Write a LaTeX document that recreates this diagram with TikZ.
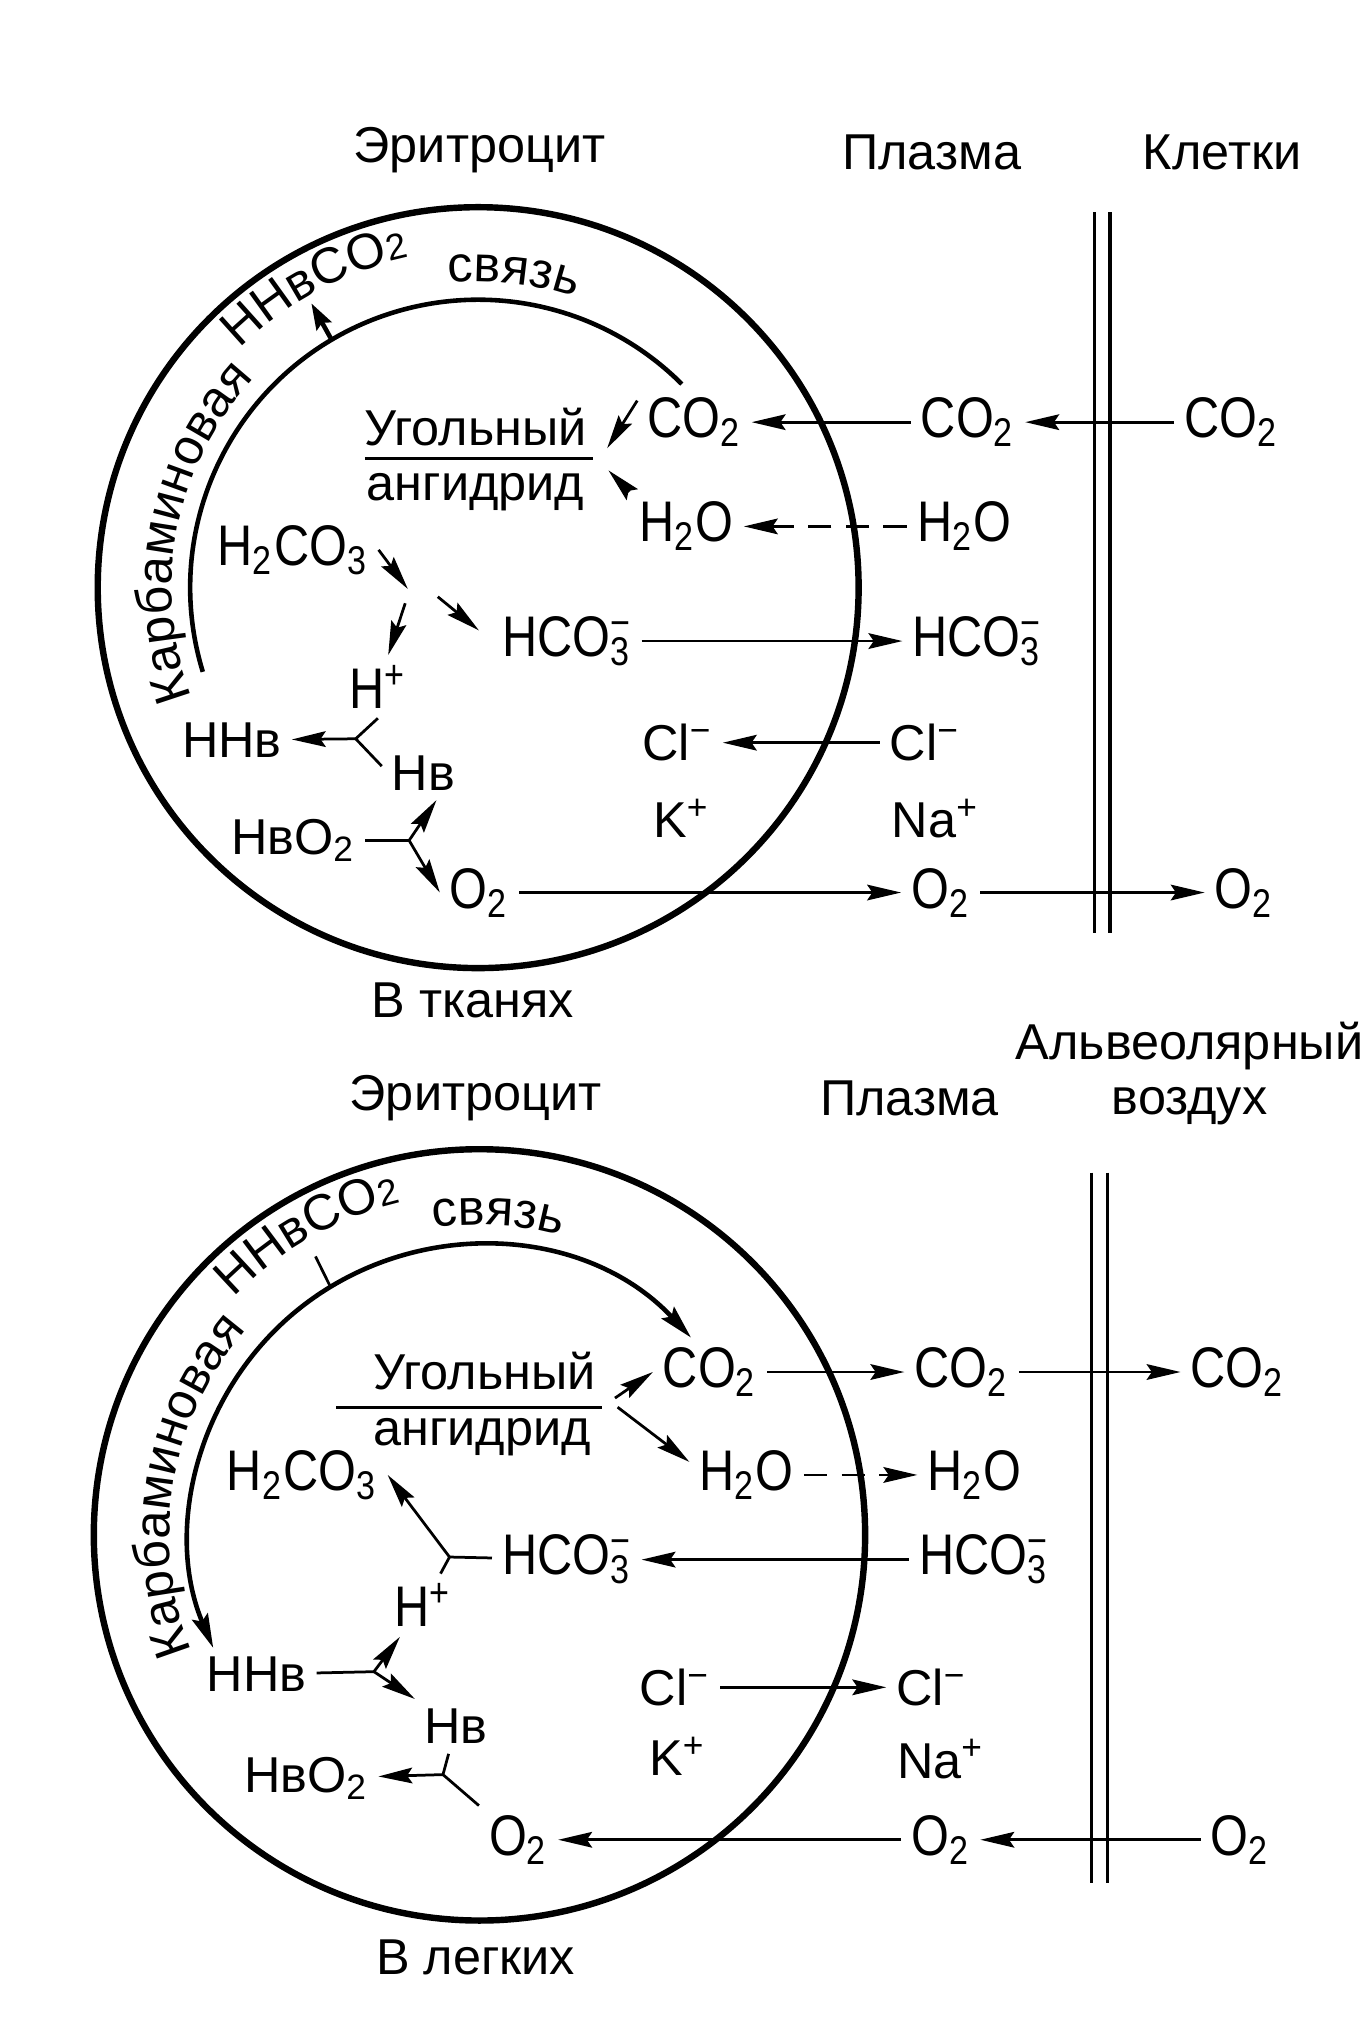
\documentclass[tikz,border=0pt]{standalone}
\usepackage{fontspec}
\setmainfont{Liberation Sans}
\newfontfamily\chemfont{Liberation Sans}[FakeStretch=0.85]
\usetikzlibrary{arrows.meta,calc,decorations.text}

\newcommand{\ionsub}[2]{\makebox[0pt][l]{\textsuperscript{#2}}\textsubscript{#1}}
\newcommand{\regsize}{\fontsize{11}{12}\selectfont}
\newcommand{\chemsize}{\chemfont\fontsize{12.5}{13}\selectfont}

\tikzset{
  lbl/.style={font=\regsize, inner sep=2pt},
  chem/.style={font=\chemsize, inner sep=2pt},
  cell/.style={line width=1.4pt},
  ring/.style={line width=1pt},
  wall/.style={line width=0.7pt},
  link/.style={line width=0.6pt},
  arr/.style={link, -{Stealth[length=2.6mm, width=1.2mm, inset=0.4mm]}},
  dasharr/.style={arr, dash pattern=on 1.8mm off 1.1mm},
  carbtext/.style={decorate, decoration={text along path, text align=left, text={#1}}},
}

\begin{document}
\begin{tikzpicture}[x=0.01cm, y=-0.01cm]
  \useasboundingbox (0,0) rectangle (1052,1568);

  \coordinate (c1) at (367,451);
  \coordinate (c2) at (368,1178);

  % ---------- In the tissues ----------
  \node[lbl] (ery1) at (368,115) {Эритроцит};
  \node[lbl] (pls1) at (715,117) {Плазма};
  \node[lbl] (cel1) at (938,117) {Клетки};
  \node[lbl] (tis)  at (363,768) {В тканях};

  \draw[cell] (c1) circle[radius=292];
  \draw[ring] (c1) ++(-197:221) arc[start angle=-197, end angle=-45, radius=221];
  \path[carbtext={|\regsize|Карбаминовая}] (c1) ++(-201:235) arc[start angle=-201, end angle=-125, radius=235];
  \path[carbtext={|\regsize|HHвCO|\fontsize{8}{9}\selectfont|2}] (c1) ++(-135:259) arc[start angle=-135, end angle=-85, radius=259];
  \path[carbtext={|\regsize|связь}] (c1) ++(-95.5:235) arc[start angle=-95.5, end angle=-50, radius=235];
  \coordinate (cb1) at ($(c1)+(-120.6:221)$);
  \coordinate (cb2) at ($(c1)+(-120.4:253)$);
  \draw[ring, -{Stealth[length=2mm, width=1.3mm, inset=0.3mm]}] (cb1) -- (cb2);

  \draw[wall] (840,163) -- (840,716);
  \draw[wall] (852,163) -- (852,716);

  \node[lbl] (ugl1) at (365,328) {Угольный};
  \node[lbl] (ang1) at (365,378) {ангидрид};
  \coordinate (fr1L) at (280,352);
  \coordinate (fr1R) at (455,352);
  \draw[link] (fr1L) -- (fr1R);

  \node[chem] (ico2)  at (533,324) {CO\textsubscript{2}};
  \node[chem] (pco2)  at (743,324) {CO\textsubscript{2}};
  \node[chem] (cco2)  at (945,324) {CO\textsubscript{2}};
  \node[chem] (ih2o)  at (527,404) {H\textsubscript{2}O};
  \node[chem] (ph2o)  at (740,404) {H\textsubscript{2}O};
  \node[chem] (h2co3) at (225,422) {H\textsubscript{2}CO\textsubscript{3}};
  \node[chem] (ihco3) at (435,492) {HCO\ionsub{3}{−}};
  \node[chem] (phco3) at (750,492) {HCO\ionsub{3}{−}};
  \node[chem] (hp)    at (290,527) {H\textsuperscript{+}};
  \node[lbl]  (hhb)   at (178,568) {HHв};
  \node[lbl]  (hb)    at (325,593) {Нв};
  \node[lbl]  (hbo2)  at (225,645) {HвO\textsubscript{2}};
  \node[chem] (io2)   at (368,685) {O\textsubscript{2}};
  \node[chem] (po2)   at (722,685) {O\textsubscript{2}};
  \node[chem] (ox1c)  at (955,685) {O\textsubscript{2}};
  \node[lbl]  (icl)   at (520,570) {Cl\textsuperscript{−}};
  \node[lbl]  (pcl)   at (710,570) {Cl\textsuperscript{−}};
  \node[lbl]  (ik)    at (523,628) {K\textsuperscript{+}};
  \node[lbl]  (pna)   at (718,628) {Na\textsuperscript{+}};

  \coordinate (cat1a) at (466,344);
  \coordinate (cat1b) at (467,361);
  \coordinate (sp1) at (313,452);
  \coordinate (sp2) at (311,463);
  \coordinate (sp3) at (336,458);
  \coordinate (jA) at (273,567);
  \coordinate (jB) at (314,645);

  \draw[arr] ([yshift=-1mm]ico2.north west) -- (cat1a);
  \draw[arr] (ih2o.north west) -- (cat1b);
  \draw[arr] (pco2) -- (ico2);
  \draw[arr] (cco2) -- (pco2);
  \draw[dasharr] (ph2o) -- (ih2o);
  \draw[arr] (h2co3.east) -- (sp1);
  \draw[arr] (sp2) -- (hp);
  \draw[arr, shorten >=1.3mm] (sp3) -- (ihco3.west);
  \draw[arr] (ihco3) -- (phco3);
  \draw[link] (hp.south) -- (jA) -- ([yshift=0.5mm]hb.west);
  \draw[arr] (jA) -- (hhb);
  \draw[link] (hbo2) -- (jB);
  \draw[arr] (jB) -- ([xshift=1mm]hb.south);
  \draw[arr] (jB) -- (io2.west);
  \draw[arr] (pcl) -- (icl);
  \draw[arr] (io2) -- (po2);
  \draw[arr] (po2) -- (ox1c);

  % ---------- In the lungs ----------
  \node[lbl] (ery2) at (365,843) {Эритроцит};
  \node[lbl] (pls2) at (698,843) {Плазма};
  \node[lbl, align=center] (alv) at (913,824) {Альвеолярный\\воздух};
  \node[lbl] (lung) at (365,1502) {В легких};

  \draw[cell] (c2) circle[radius=296];
  \draw[ring, {Stealth[length=2.6mm, width=1.3mm, inset=0.4mm]}-{Stealth[length=2.6mm, width=1.3mm, inset=0.4mm]}]
    (c2) ++(-43:222) arc[start angle=-43, end angle=-203, radius=222];
  \path[carbtext={|\regsize|Карбаминовая}] (c2) ++(-202:238) arc[start angle=-202, end angle=-125, radius=238];
  \path[carbtext={|\regsize|HHвCO|\fontsize{8}{9}\selectfont|2}] (c2) ++(-136:262) arc[start angle=-136, end angle=-85, radius=262];
  \path[carbtext={|\regsize|связь}] (c2) ++(-98.5:238) arc[start angle=-98.5, end angle=-50, radius=238];
  \coordinate (tk1) at ($(c2)+(-121:222)$);
  \coordinate (tk2) at ($(c2)+(-120.5:248)$);
  \draw[link] (tk1) -- (tk2);

  \draw[wall] (838,900) -- (838,1445);
  \draw[wall] (850,900) -- (850,1445);

  \node[lbl] (ugl2) at (372,1052) {Угольный};
  \node[lbl] (ang2) at (370,1103) {ангидрид};
  \coordinate (fr2L) at (258,1080);
  \coordinate (fr2R) at (462,1080);
  \draw[link] (fr2L) -- (fr2R);

  \node[chem] (ico2b)  at (545,1053) {CO\textsubscript{2}};
  \node[chem] (pco2b)  at (738,1053) {CO\textsubscript{2}};
  \node[chem] (aco2)   at (950,1053) {CO\textsubscript{2}};
  \node[chem] (ih2ob)  at (573,1132) {H\textsubscript{2}O};
  \node[chem] (ph2ob)  at (748,1132) {H\textsubscript{2}O};
  \node[chem] (h2co3b) at (232,1132) {H\textsubscript{2}CO\textsubscript{3}};
  \node[chem] (ihco3b) at (435,1197) {HCO\ionsub{3}{−}};
  \node[chem] (phco3b) at (755,1197) {HCO\ionsub{3}{−}};
  \node[chem] (hpb)    at (325,1232) {H\textsuperscript{+}};
  \node[lbl]  (hhbb)   at (197,1285) {HHв};
  \node[lbl]  (hbb)    at (350,1325) {Нв};
  \node[lbl]  (hbo2b)  at (235,1365) {HвO\textsubscript{2}};
  \node[chem] (io2b)   at (398,1412) {O\textsubscript{2}};
  \node[chem] (po2b)   at (722,1412) {O\textsubscript{2}};
  \node[chem] (ao2)    at (952,1412) {O\textsubscript{2}};
  \node[lbl]  (iclb)   at (518,1295) {Cl\textsuperscript{−}};
  \node[lbl]  (pclb)   at (715,1295) {Cl\textsuperscript{−}};
  \node[lbl]  (ikb)    at (520,1348) {K\textsuperscript{+}};
  \node[lbl]  (pnab)   at (722,1350) {Na\textsuperscript{+}};

  \coordinate (cat2a) at (472,1073);
  \coordinate (cat2b) at (474,1090);
  \coordinate (jC) at (345,1195);
  \coordinate (jD) at (287,1283);
  \coordinate (jE) at (340,1362);

  \draw[arr] (cat2a) -- (ico2b.west);
  \draw[arr] ([yshift=1mm]cat2b) -- ([yshift=1mm]ih2ob.west);
  \draw[arr] (ico2b) -- (pco2b);
  \draw[arr] (pco2b) -- (aco2);
  \draw[dasharr] (ih2ob) -- (ph2ob);
  \draw[arr] (phco3b) -- (ihco3b);
  \draw[link] (ihco3b) -- (jC);
  \draw[arr] (jC) -- (h2co3b.east);
  \draw[link] (jC) -- (hpb);
  \draw[link] (hhbb) -- (jD);
  \draw[arr] (jD) -- (hpb);
  \draw[arr] (jD) -- (hbb);
  \draw[link] (hbb) -- (jE) -- (io2b);
  \draw[arr] (jE) -- (hbo2b);
  \draw[arr] (iclb) -- (pclb);
  \draw[arr] (ao2) -- (po2b);
  \draw[arr] (po2b) -- (io2b);

\end{tikzpicture}
\end{document}
